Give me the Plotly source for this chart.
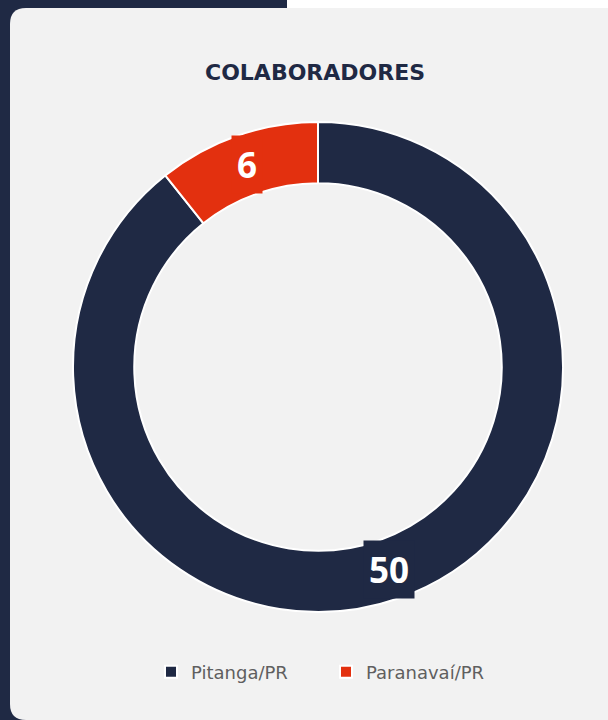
import math
import plotly.graph_objects as go

labels = ["Pitanga/PR", "Paranavaí/PR"]
values = [50, 6]
colors = ["#1f2944", "#e3300f"]
title = "COLABORADORES"

W, H = 608, 720
NAVY = "#1f2944"
CARD = "#f2f2f2"

def px(x):
    return x / W

def py(y):
    return 1 - y / H

CX, CY, R_OUT, HOLE = 318, 367, 245, 0.75

fig = go.Figure()
fig.add_trace(go.Pie(
    labels=labels,
    values=values,
    hole=HOLE,
    sort=False,
    direction="clockwise",
    rotation=0,
    marker=dict(colors=colors, line=dict(color="white", width=2)),
    textinfo="none",
    domain=dict(x=[px(CX - R_OUT), px(CX + R_OUT)], y=[py(CY + R_OUT), py(CY - R_OUT)]),
    hoverinfo="label+value",
))

# value labels with slice-coloured boxes, placed at each slice's mid-angle
total = sum(values)
r_mid = R_OUT * (1 + HOLE) / 2
annotations = []
cum = 0
for v, c in zip(values, colors):
    ang = 2 * math.pi * (cum + v / 2) / total
    cum += v
    lx = CX + r_mid * math.sin(ang)
    ly = CY - r_mid * math.cos(ang)
    annotations.append(dict(text=f"<b>{v}</b>", x=px(lx), y=py(ly), xref="paper", yref="paper",
                            showarrow=False, xanchor="center", yanchor="middle",
                            bgcolor=c, borderpad=5,
                            font=dict(family="Open Sans", size=35, color="white")))

annotations.append(dict(text=f"<b>{title}</b>", x=px(315), y=py(73), xref="paper", yref="paper",
                        showarrow=False, xanchor="center", yanchor="middle",
                        font=dict(family="DejaVu Sans", size=22, color=NAVY)))

# card background with rounded left corners
r = 16
x0, y0, x1, y1 = 10, 8, 608, 720
path = (f"M {px(x0)},{py(y0 + r)} Q {px(x0)},{py(y0)} {px(x0 + r)},{py(y0)} "
        f"L {px(x1)},{py(y0)} L {px(x1)},{py(y1)} L {px(x0 + r)},{py(y1)} "
        f"Q {px(x0)},{py(y1)} {px(x0)},{py(y1 - r)} Z")

fig.update_layout(
    width=W, height=H,
    margin=dict(l=0, r=0, t=0, b=0),
    paper_bgcolor=NAVY,
    plot_bgcolor=NAVY,
    showlegend=True,
    shapes=[
        dict(type="rect", xref="paper", yref="paper", x0=px(287), x1=1, y0=py(8), y1=1,
             fillcolor="white", line=dict(width=0), layer="below"),
        dict(type="path", xref="paper", yref="paper", path=path,
             fillcolor=CARD, line=dict(width=0), layer="below"),
    ],
    annotations=annotations,
    legend=dict(orientation="h", x=px(326), y=py(672), xanchor="center", yanchor="middle",
                font=dict(family="DejaVu Sans", size=18, color="#5f5f5f"),
                bgcolor="rgba(0,0,0,0)", entrywidth=130, itemclick=False),
)

fig.write_html("out.html", config={"displayModeBar": False},
               post_script="document.body.style.margin='0';document.body.style.overflow='hidden';")
